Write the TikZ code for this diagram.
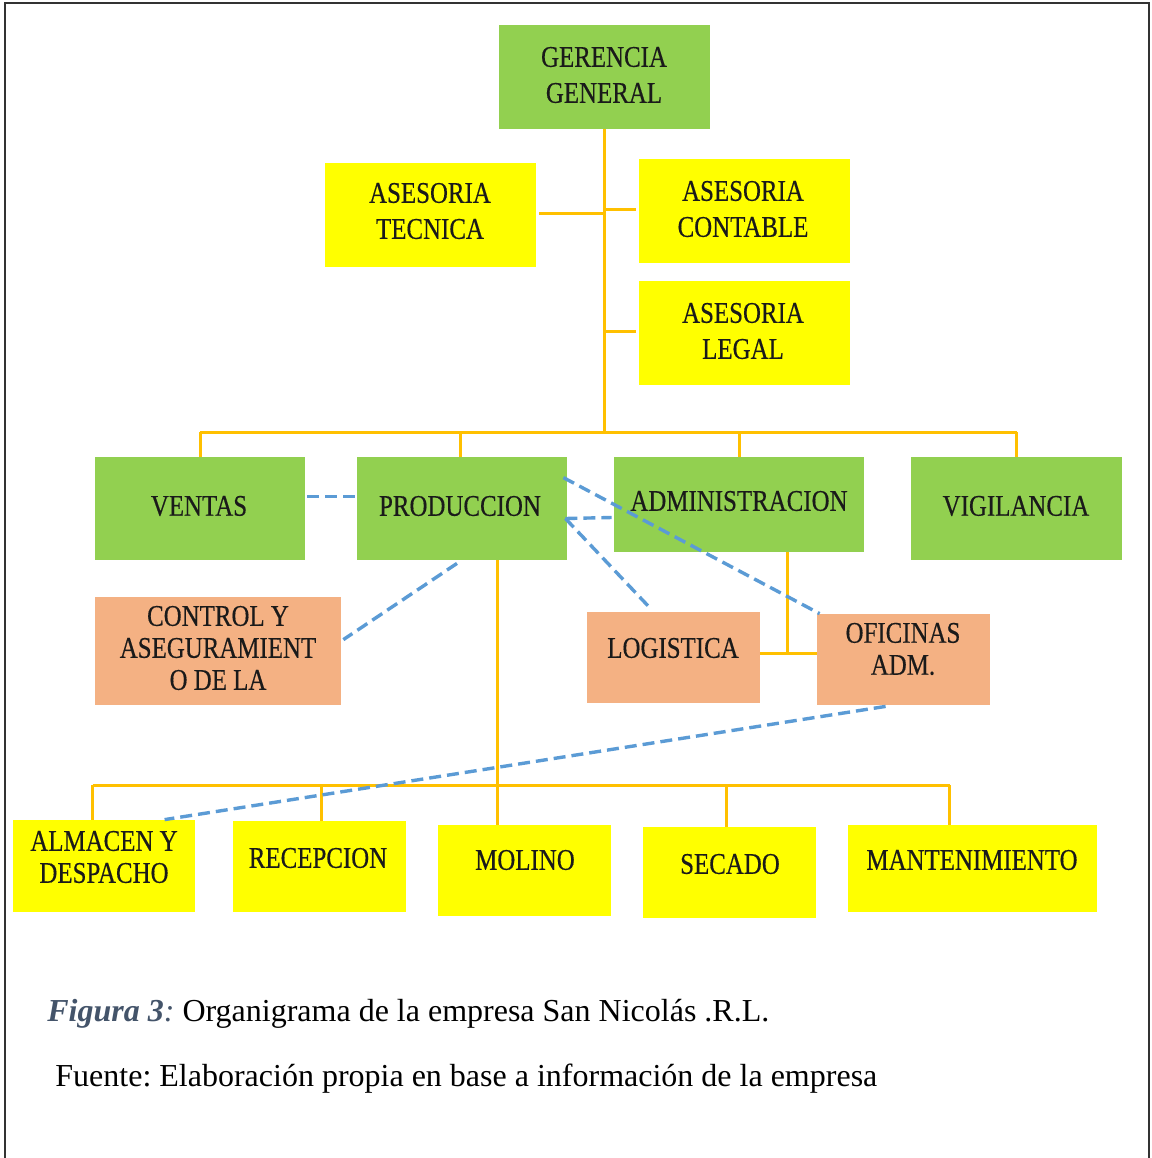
\documentclass[tikz,border=0pt]{standalone}
\usepackage{fontspec}
\setmainfont[FakeStretch=0.83,FakeBold=0.4]{Liberation Serif}
\newfontfamily\capfont{Liberation Serif}
\usetikzlibrary{calc}
\definecolor{gfill}{HTML}{92D050}
\definecolor{yfill}{HTML}{FFFF00}
\definecolor{sfill}{HTML}{F4B183}
\definecolor{oline}{HTML}{FFC000}
\definecolor{bline}{HTML}{5B9BD5}
\definecolor{capblue}{HTML}{44546A}
\definecolor{frame}{HTML}{333333}
\definecolor{txt}{HTML}{1A1A1A}
\frenchspacing
\begin{document}
\begin{tikzpicture}[x=0.5pt,y=-0.5pt,
  box/.style={draw=none,inner sep=0pt,minimum width=#1},
  gbox/.style={box=#1,fill=gfill},
  ybox/.style={box=#1,fill=yfill},
  sbox/.style={box=#1,fill=sfill},
  lbl/.style={inner sep=0pt,align=center,text=txt,font=\fontsize{15}{18}\selectfont},
  lbltight/.style={lbl,font=\fontsize{15}{16}\selectfont},
  oconn/.style={draw=oline,line width=1.5pt},
  bconn/.style={draw=bline,line width=1.7pt,dash pattern=on 6pt off 3pt}]
\useasboundingbox (0,0) rectangle (1152,1158);
\draw[frame,line width=1pt] (5,1160) -- (5,3) -- (1149,3) -- (1149,1160);

% boxes
\node[gbox=105.5pt,minimum height=52pt] (gg) at (604.5,77) {};
\node[ybox=105.5pt,minimum height=52pt] (at) at (430.5,215) {};
\node[ybox=105.5pt,minimum height=52pt] (ac) at (744.5,211) {};
\node[ybox=105.5pt,minimum height=52pt] (al) at (744.5,333) {};
\node[gbox=105pt,minimum height=51.5pt] (ven) at (200,508.5) {};
\node[gbox=105pt,minimum height=51.5pt] (pro) at (462,508.5) {};
\node[gbox=125pt,minimum height=47.5pt] (adm) at (739,504.5) {};
\node[gbox=105.5pt,minimum height=51.5pt] (vig) at (1016.5,508.5) {};
\node[sbox=123pt,minimum height=54pt] (ctl) at (218,651) {};
\node[sbox=86.5pt,minimum height=45.5pt] (log) at (673.5,657.5) {};
\node[sbox=86.5pt,minimum height=45.5pt] (ofi) at (903.5,659.5) {};
\node[ybox=91pt,minimum height=46pt] (alm) at (104,866) {};
\node[ybox=86.5pt,minimum height=45.5pt] (rec) at (319.5,866.5) {};
\node[ybox=86.5pt,minimum height=45.5pt] (mol) at (524.5,870.5) {};
\node[ybox=86.5pt,minimum height=45.5pt] (sec) at (729.5,872.5) {};
\node[ybox=124.5pt,minimum height=43.5pt] (man) at (972.5,868.5) {};

% labels
\node[lbl] (tgg) at (604,75) {GERENCIA\\GENERAL};
\node[lbl] (tat) at (430,211) {ASESORIA\\TECNICA};
\node[lbl] (tac) at (743,209) {ASESORIA\\CONTABLE};
\node[lbl] (tal) at (743,331) {ASESORIA\\LEGAL};
\node[lbl] (tven) at (199,506) {VENTAS};
\node[lbl] (tpro) at (460,506) {PRODUCCION};
\node[lbl] (tadm) at (739,501) {ADMINISTRACION};
\node[lbl] (tvig) at (1016,506) {VIGILANCIA};
\node[lbltight] (tctl) at (218,648) {CONTROL Y\\ASEGURAMIENT\\O DE LA};
\node[lbl] (tlog) at (673,648) {LOGISTICA};
\node[lbltight] (tofi) at (903,649) {OFICINAS\\ADM.};
\node[lbltight] (talm) at (104,857) {ALMACEN Y\\DESPACHO};
\node[lbl] (trec) at (318,858) {RECEPCION};
\node[lbl] (tmol) at (525,860) {MOLINO};
\node[lbl] (tsec) at (730,864) {SECADO};
\node[lbl] (tman) at (972,860) {MANTENIMIENTO};

% orange connectors
\coordinate (bar) at (604,432);
\coordinate (jadm) at (787,653);
\coordinate (bbar) at (497,785);
\coordinate (dalm) at ($(alm.north west)+(80,0)$);
\coordinate (drec) at ($(rec.north west)+(89,0)$);
\coordinate (dsec) at ($(sec.north west)+(84,0)$);
\coordinate (dman) at ($(man.north west)+(102,0)$);
\coordinate (dpro) at ($(pro.north)+(-2,0)$);
\coordinate (tat1) at ($(at.east)+(3,-2)$);
\coordinate (tac1) at ($(ac.west)+(-3,-2)$);
\coordinate (tal1) at ($(al.west)+(-3,-2)$);
\draw[oconn] (gg.south -| bar) -- (bar);
\draw[oconn] (tat1) -- (tat1 -| bar);
\draw[oconn] (tac1 -| bar) -- (tac1);
\draw[oconn] (tal1 -| bar) -- (tal1);
\draw[oconn] (ven.north |- bar) -- (vig.north |- bar);
\draw[oconn] (ven.north |- bar) -- (ven.north);
\draw[oconn] (dpro |- bar) -- (dpro);
\draw[oconn] (adm.north |- bar) -- (adm.north);
\draw[oconn] (vig.north |- bar) -- (vig.north);
\draw[oconn] (adm.south -| jadm) -- (jadm);
\draw[oconn] (log.east |- jadm) -- (ofi.west |- jadm);
\draw[oconn] (pro.south -| bbar) -- (mol.north -| bbar);
\draw[oconn] (dalm |- bbar) -- (dman |- bbar);
\draw[oconn] (dalm |- bbar) -- (dalm);
\draw[oconn] (drec |- bbar) -- (drec);
\draw[oconn] (dsec |- bbar) -- (dsec);
\draw[oconn] (dman |- bbar) -- (dman);

% blue dashed connectors
\draw[bconn] ($(ven.east)+(2,-12)$) -- ($(pro.west)+(-2,-12)$);
\draw[bconn] ($(pro.east)+(-2,10)$) -- ($(adm.west)+(-2,13)$);
\draw[bconn] ($(pro.east)+(-2,10)$) -- ($(log.north west)+(65,-2)$);
\draw[bconn] ($(pro.north east)+(-4,21)$) -- ($(ofi.north west)+(3,0)$);
\draw[bconn] ($(pro.south)+(-5,3)$) -- ($(ctl.north east)+(2,43)$);
\draw[bconn] ($(ofi.south west)+(69,1)$) -- ($(alm.north west)+(152,0)$);

% caption
\node[anchor=base west,inner sep=0pt,font=\capfont\fontsize{16}{19}\selectfont] (cap1) at (47,1021)
  {\textcolor{capblue}{\textbf{\textit{Figura 3}}\textit{:}} Organigrama de la empresa San Nicolás .R.L.};
\node[anchor=base west,inner sep=0pt,font=\capfont\fontsize{16}{19}\selectfont] (cap2) at (55,1086)
  {Fuente: Elaboración propia en base a información de la empresa};
\end{tikzpicture}
\end{document}
